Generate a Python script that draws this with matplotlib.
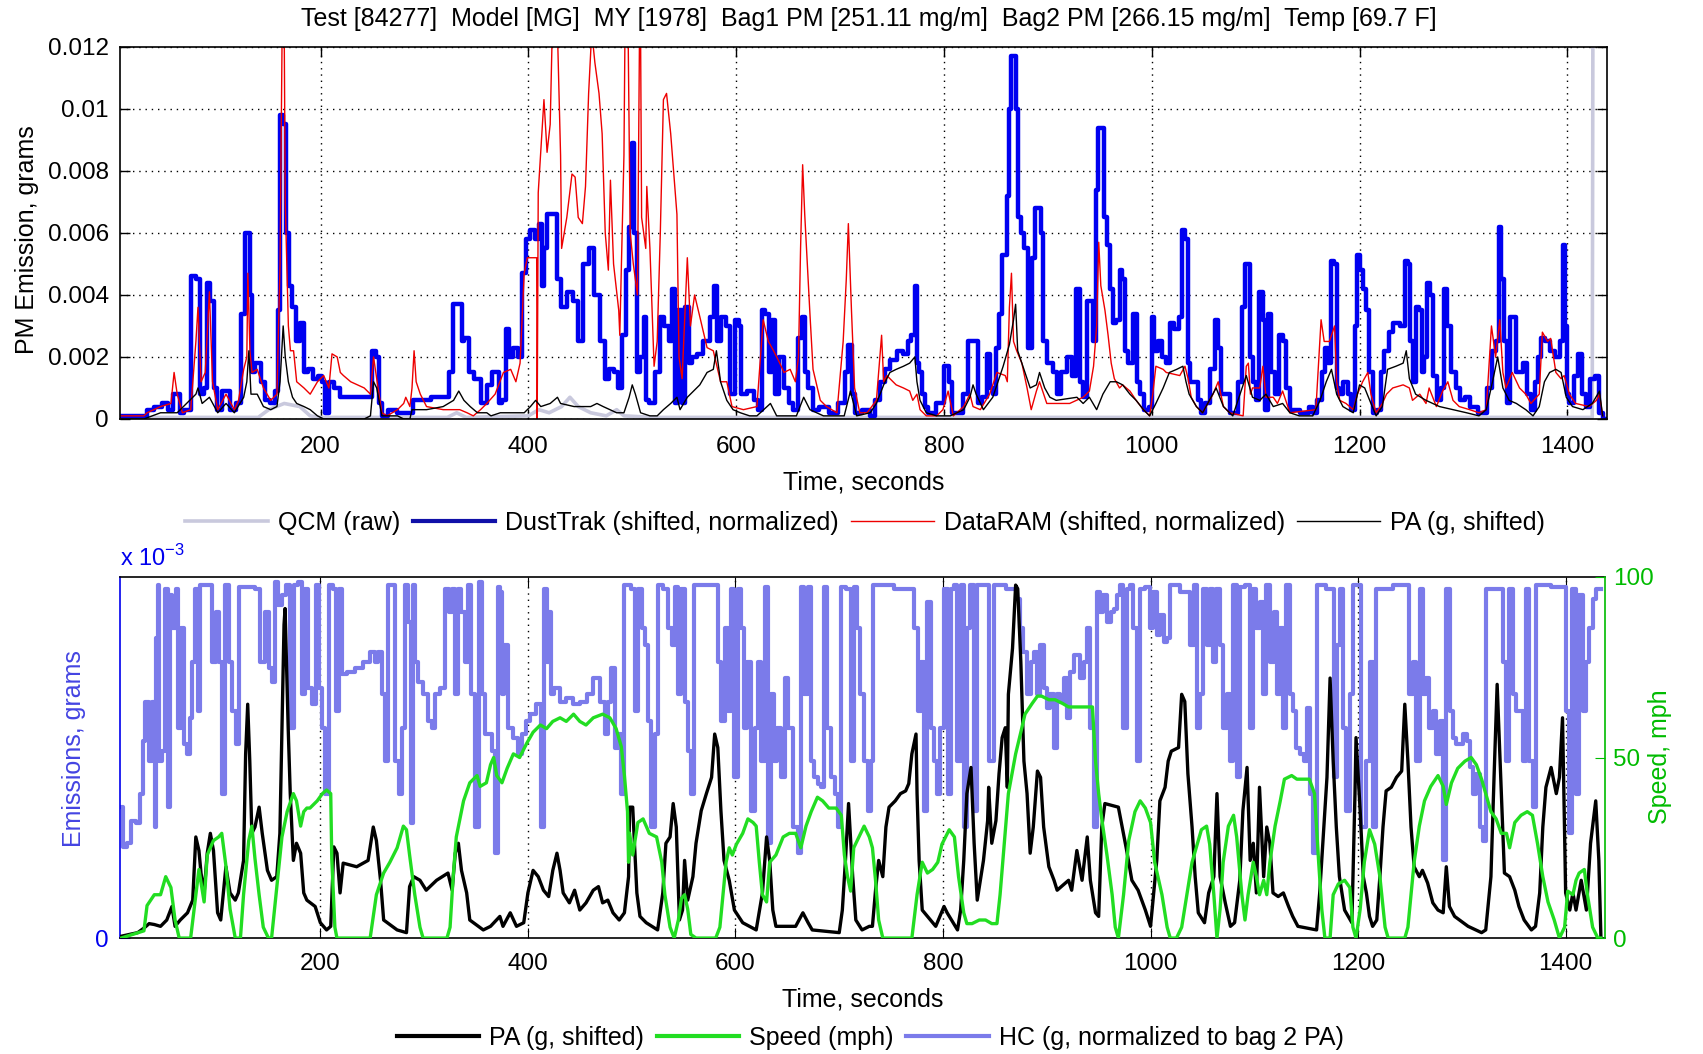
import numpy as np
import matplotlib.pyplot as plt
from matplotlib.lines import Line2D

plt.rcParams['font.family'] = ['Liberation Sans', 'DejaVu Sans']
plt.rcParams['font.size'] = 18

title = ('Test [84277]  Model [MG]  MY [1978]  Bag1 PM [251.11 mg/m]  '
         'Bag2 PM [266.15 mg/m]  Temp [69.7 F]')

# ---- top panel: (time s, grams) ----
qcm = [(7, .00005), (140, .00005), (150, .0003), (165, .0005), (180, .0004), (190, .0001),
       (200, .00005), (322, .00005), (331, .0002), (340, .00005), (400, .0001), (410, .0003),
       (420, .0002), (432, .0004), (440, .0007), (448, .0004), (460, .0002), (475, .0001),
       (485, .0003), (492, .0001), (520, .00005), (1424, .00005), (1425, .02), (1438, .02)]

dusttrak = [
    (7, .0001), (30, .0001), (35, .0003), (45, .0004), (50, .0005), (56, .0003), (59, .0008),
    (63, .0008), (66, .0002), (72, .0003), (78, .0046), (82, .0045), (86, .0008), (90, .0010),
    (92, .0044), (96, .0038), (99, .0010), (102, .0003), (109, .0009), (117, .0003), (121, .0005),
    (126, .0034), (128, .0060), (131, .0060), (133, .0040), (135, .0015), (138, .0018), (141, .0018),
    (144, .0012), (149, .0006), (154, .0005), (158, .0009), (160, .0035), (162, .0098), (165, .0095),
    (168, .0060), (171, .0043), (174, .0036), (178, .0025), (182, .0031), (186, .0015), (190, .0016),
    (195, .0013), (200, .0014), (203, .0012), (206, .0002), (210, .0012), (216, .0010), (222, .0007),
    (248, .0007), (251, .0022), (255, .0020), (258, .0005), (261, .0001), (268, .0003), (280, .0002),
    (287, .0002), (290, .0006), (322, .0007), (325, .0015), (330, .0037), (335, .0037), (337, .0025),
    (340, .0026), (345, .0015), (351, .0013), (357, .0005), (363, .0011), (367, .0015), (370, .0015),
    (373, .0005), (376, .0006), (380, .0029), (383, .0020), (388, .0023), (392, .0020), (396, .0047),
    (399, .0058), (404, .0061), (408, .0058), (412, .0063), (414, .0043), (416, .0055), (420, .0066),
    (426, .0066), (429, .0045), (434, .0036), (440, .0041), (445, .0038), (450, .0025), (456, .0050),
    (461, .0055), (466, .0040), (472, .0025), (476, .0013), (480, .0016), (485, .0015), (488, .0010),
    (492, .0027), (495, .0048), (498, .0062), (501, .0089), (503, .0060), (506, .0015), (509, .0020),
    (513, .0033), (514, .0006), (519, .0005), (524, .0015), (529, .0033), (533, .0030), (537, .0025),
    (540, .0042), (543, .0005), (546, .0035), (549, .0005), (553, .0036), (556, .0018), (559, .0020),
    (565, .0021), (572, .0025), (578, .0033), (580, .0043), (583, .0025), (588, .0033), (593, .0030),
    (596, .0008), (601, .0032), (604, .0030), (606, .0008), (614, .0009), (620, .0006), (623, .0003),
    (626, .0035), (630, .0034), (633, .0015), (636, .0032), (639, .0008), (644, .0020), (649, .0010),
    (652, .0005), (658, .0003), (662, .0026), (665, .0033), (668, .0015), (671, .0010), (676, .0003),
    (684, .0004), (694, .0002), (703, .0005), (706, .0015), (710, .0024), (713, .0008), (716, .0002),
    (726, .0003), (732, .0001), (735, .0006), (742, .0012), (745, .0016), (751, .0019), (758, .0022),
    (764, .0021), (767, .0025), (770, .0027), (774, .0043), (775, .0018), (777, .0015), (780, .0008),
    (783, .0004), (787, .0002), (798, .0005), (803, .0017), (806, .0012), (809, .0002), (815, .0002),
    (822, .0008), (825, .0025), (831, .0025), (835, .0005), (839, .0007), (843, .0021), (846, .0010),
    (849, .0008), (852, .0023), (854, .0034), (857, .0053), (860, .0053), (862, .0072), (863, .0100),
    (867, .0117), (869, .0117), (870, .0100), (872, .0065), (876, .0060), (879, .0055), (883, .0023),
    (886, .0052), (889, .0068), (892, .0068), (894, .0060), (897, .0025), (902, .0018), (907, .0015),
    (910, .0008), (915, .0015), (921, .0020), (926, .0014), (929, .0042), (932, .0012), (936, .0007),
    (939, .0038), (942, .0038), (945, .0025), (947, .0074), (950, .0094), (953, .0094), (955, .0065),
    (958, .0056), (961, .0042), (964, .0031), (968, .0032), (970, .0048), (973, .0045), (976, .0022),
    (979, .0018), (984, .0034), (987, .0012), (990, .0008), (995, .0003), (1000, .0004), (1001, .0033),
    (1004, .0022), (1008, .0025), (1011, .0020), (1016, .0018), (1019, .0031), (1024, .0029),
    (1028, .0033), (1031, .0061), (1033, .0058), (1036, .0018), (1038, .0012), (1043, .0012),
    (1046, .0006), (1049, .0002), (1054, .0005), (1059, .0016), (1062, .0032), (1065, .0023),
    (1069, .0008), (1073, .0008), (1077, .0002), (1081, .0002), (1085, .0012), (1089, .0036),
    (1091, .0050), (1094, .0050), (1096, .0020), (1099, .0012), (1102, .0006), (1105, .0041),
    (1109, .0032), (1110, .0003), (1113, .0034), (1117, .0015), (1120, .0008), (1125, .0027),
    (1128, .0025), (1131, .0010), (1136, .0003), (1149, .0002), (1154, .0004), (1157, .0002),
    (1162, .0006), (1165, .0015), (1168, .0023), (1171, .0018), (1174, .0051), (1177, .0050),
    (1179, .0010), (1182, .0008), (1187, .0012), (1190, .0008), (1194, .0003), (1197, .0030),
    (1198, .0053), (1202, .0048), (1205, .0042), (1208, .0035), (1211, .0015), (1214, .0002),
    (1219, .0003), (1222, .0015), (1226, .0022), (1230, .0028), (1235, .0031), (1242, .0030),
    (1245, .0051), (1248, .0050), (1250, .0025), (1253, .0012), (1256, .0036), (1259, .0035),
    (1261, .0015), (1264, .0020), (1266, .0044), (1269, .0040), (1272, .0014), (1277, .0006),
    (1280, .0010), (1283, .0042), (1286, .0030), (1290, .0015), (1295, .0010), (1299, .0006),
    (1304, .0007), (1309, .0004), (1320, .0002), (1325, .0010), (1330, .0022), (1333, .0025),
    (1335, .0062), (1338, .0045), (1341, .0025), (1343, .0005), (1346, .0033), (1349, .0033),
    (1352, .0015), (1355, .0015), (1359, .0018), (1363, .0008), (1367, .0003), (1370, .0012),
    (1373, .0020), (1376, .0026), (1381, .0025), (1386, .0022), (1391, .0020), (1394, .0025),
    (1397, .0056), (1399, .0030), (1400, .0008), (1404, .0005), (1408, .0014), (1413, .0021),
    (1416, .0008), (1420, .0004), (1424, .0013), (1429, .0014), (1432, .0002), (1436, .0000)]

dataram = [
    (7, .0001), (30, .0001), (33, .0002), (46, .0004), (56, .0005), (59, .0015), (62, .0008),
    (67, .0002), (75, .0003), (80, .0025), (82, .0036), (85, .0012), (89, .0015), (93, .0041),
    (96, .0012), (101, .0003), (109, .0008), (117, .0003), (121, .0006), (126, .0016), (129, .0020),
    (130, .0047), (132, .0022), (134, .0015), (139, .0016), (145, .0010), (152, .0006), (158, .0008),
    (161, .0050), (163, .0125), (165, .0125), (166, .0070), (169, .0030), (171, .0022), (174, .0022),
    (177, .0012), (184, .0010), (190, .0008), (197, .0012), (203, .0014), (208, .0010), (211, .0021),
    (216, .0020), (219, .0015), (222, .0014), (229, .0012), (242, .0010), (248, .0008), (251, .0020),
    (254, .0013), (259, .0002), (264, .0001), (274, .0003), (280, .0005), (282, .0007), (286, .0004),
    (288, .0010), (290, .0022), (292, .0012), (296, .0008), (302, .0004), (318, .0003), (334, .0003),
    (341, .0002), (347, .0001), (354, .0003), (360, .0005), (368, .0008), (376, .0015), (383, .0016),
    (388, .0012), (392, .0018), (396, .0047), (399, .0052), (408, .0052), (408.5, .0000),
    (409.5, .0073), (415, .0103), (418, .0086), (421, .0095), (423, .0125), (428, .0125),
    (431, .0085), (432, .0055), (437, .0065), (442, .0079), (445, .0078), (448, .0065), (452, .0063),
    (455, .0075), (458, .0105), (461, .0125), (464, .0115), (468, .0105), (471, .0092), (474, .0060),
    (477, .0048), (479, .0077), (482, .0050), (487, .0035), (488, .0027), (492, .0085), (493, .0125),
    (496, .0125), (498, .0060), (501, .0050), (505, .0040), (507, .0125), (508, .0125), (509, .0065),
    (513, .0055), (514, .0075), (517, .0055), (521, .0017), (524, .0025), (527, .0060), (530, .0103),
    (533, .0105), (537, .0092), (540, .0079), (543, .0066), (545, .0020), (548, .0013), (553, .0052),
    (556, .0030), (560, .0040), (565, .0033), (572, .0023), (578, .0022), (585, .0012), (591, .0012),
    (596, .0004), (607, .0003), (620, .0004), (626, .0032), (631, .0025), (636, .0022), (642, .0018),
    (646, .0015), (652, .0016), (657, .0012), (660, .0020), (662, .0055), (664, .0082), (666, .0066),
    (671, .0034), (674, .0016), (681, .0006), (687, .0004), (697, .0002), (703, .0025), (706, .0045),
    (708, .0063), (711, .0035), (714, .0010), (719, .0002), (726, .0002), (735, .0006), (740, .0027),
    (742, .0012), (745, .0014), (754, .0011), (761, .0010), (767, .0009), (770, .0006), (774, .0008),
    (777, .0003), (783, .0001), (793, .0001), (799, .0003), (804, .0009), (809, .0001), (819, .0004),
    (825, .0008), (828, .0004), (835, .0003), (844, .0008), (851, .0015), (859, .0014), (861, .0012),
    (863, .0036), (865, .0047), (867, .0025), (870, .0022), (875, .0018), (880, .0010), (884, .0003),
    (889, .0009), (892, .0012), (895, .0009), (899, .0005), (921, .0005), (934, .0007), (940, .0009),
    (944, .0017), (947, .0030), (949, .0057), (951, .0043), (955, .0035), (958, .0027), (961, .0018),
    (964, .0013), (969, .0010), (972, .0011), (979, .0009), (985, .0006), (992, .0003), (998, .0001),
    (1001, .0008), (1004, .0017), (1011, .0016), (1014, .0015), (1027, .0014), (1032, .0017),
    (1035, .0013), (1038, .0007), (1043, .0004), (1049, .0002), (1059, .0008), (1064, .0012),
    (1069, .0004), (1075, .0002), (1088, .0001), (1091, .0017), (1093, .0018), (1095, .0008),
    (1097, .0010), (1104, .0010), (1107, .0017), (1110, .0007), (1117, .0007), (1121, .0005),
    (1126, .0009), (1133, .0002), (1158, .0003), (1163, .0032), (1166, .0025), (1171, .0025),
    (1176, .0030), (1178, .0012), (1181, .0006), (1187, .0005), (1194, .0003), (1198, .0008),
    (1203, .0012), (1208, .0015), (1211, .0008), (1216, .0002), (1222, .0005), (1226, .0008),
    (1232, .0010), (1242, .0011), (1248, .0010), (1251, .0006), (1258, .0008), (1264, .0005),
    (1267, .0010), (1274, .0004), (1280, .0009), (1285, .0012), (1290, .0006), (1296, .0004),
    (1306, .0003), (1315, .0002), (1322, .0003), (1327, .0030), (1331, .0020), (1335, .0032),
    (1338, .0015), (1341, .0010), (1347, .0015), (1354, .0010), (1360, .0008), (1365, .0005),
    (1373, .0008), (1376, .0028), (1381, .0025), (1384, .0026), (1389, .0015), (1394, .0013),
    (1397, .0014), (1402, .0008), (1408, .0005), (1421, .0004), (1428, .0006), (1431, .0008),
    (1434, .0001)]

pa_top = [
    (7, 0), (30, 0), (46, .0002), (62, .0002), (80, .0008), (82, .0010), (86, .0005), (93, .0007),
    (101, .0002), (109, .0005), (117, .0002), (126, .0007), (129, .0012), (131, .0022), (133, .0008),
    (139, .0008), (145, .0004), (152, .0003), (158, .0004), (161, .0012), (164, .0030), (166, .0020),
    (169, .0012), (173, .0007), (177, .0005), (184, .0004), (190, .0003), (197, .0001), (203, 0),
    (242, 0), (248, .0001), (251, .0012), (254, .0010), (259, .0001), (274, .0001), (280, 0),
    (286, 0), (288, .0003), (302, .0003), (318, .0004), (328, .0006), (333, .0009), (338, .0006),
    (344, .0004), (351, .0002), (360, .0002), (364, .0001), (373, .0002), (396, .0002), (402, .0004),
    (407, .0006), (412, .0004), (421, .0005), (428, .0007), (431, .0005), (444, .0004), (460, .0004),
    (466, .0005), (472, .0004), (485, .0002), (492, .0002), (497, .0007), (500, .0011), (503, .0008),
    (508, .0002), (517, .0001), (524, .0001), (530, .0003), (537, .0005), (543, .0007), (546, .0003),
    (553, .0007), (559, .0009), (565, .0011), (572, .0015), (578, .0016), (581, .0022), (585, .0012),
    (591, .0006), (597, .0003), (604, .0002), (613, .0001), (620, .0001), (633, .0005), (639, .0001),
    (658, .0001), (665, .0007), (671, .0003), (684, .0001), (704, .0001), (710, .0009), (716, .0001),
    (729, .0002), (735, .0005), (742, .0011), (748, .0015), (754, .0016), (761, .0017), (767, .0018),
    (772, .0020), (774, .0012), (777, .0006), (783, .0002), (793, .0001), (806, .0001), (819, .0003),
    (825, .0007), (828, .0011), (831, .0008), (838, .0003), (847, .0007), (857, .0017), (863, .0024),
    (867, .0032), (869, .0037), (871, .0022), (876, .0017), (883, .0010), (889, .0011), (892, .0015),
    (897, .0010), (902, .0007), (908, .0006), (928, .0007), (934, .0005), (940, .0007), (947, .0003),
    (953, .0008), (960, .0012), (966, .0012), (972, .0011), (979, .0008), (985, .0006), (992, .0003),
    (998, .0001), (1004, .0005), (1011, .0010), (1017, .0015), (1024, .0016), (1030, .0017),
    (1033, .0012), (1036, .0008), (1043, .0004), (1049, .0002), (1062, .0010), (1069, .0004),
    (1078, .0001), (1091, .0014), (1097, .0007), (1104, .0006), (1110, .0008), (1117, .0004),
    (1126, .0005), (1133, .0002), (1142, .0001), (1155, .0001), (1162, .0006), (1168, .0012),
    (1173, .0016), (1178, .0008), (1184, .0004), (1194, .0002), (1200, .0011), (1205, .0010),
    (1211, .0005), (1216, .0001), (1222, .0004), (1227, .0016), (1235, .0017), (1242, .0018),
    (1245, .0022), (1248, .0013), (1254, .0008), (1264, .0006), (1277, .0004), (1290, .0003),
    (1303, .0002), (1315, .0001), (1322, .0003), (1328, .0012), (1333, .0020), (1338, .0010),
    (1344, .0006), (1351, .0005), (1360, .0003), (1367, .0001), (1373, .0004), (1378, .0012),
    (1383, .0015), (1389, .0016), (1394, .0015), (1399, .0007), (1405, .0004), (1415, .0003),
    (1424, .0005), (1431, .0009), (1434, .0001)]

# ---- bottom panel: PA and HC in 1e-3 g, speed in mph ----
pa_bottom = [
    (8, .02), (24, .06), (30, .11), (35, .16), (40, .15), (46, .13), (52, .20), (57, .35), (60, .13),
    (65, .20), (72, .28), (77, .42), (80, 1.12), (83, .97), (85, .72), (88, .50), (91, .94), (94, 1.16),
    (97, .97), (101, .28), (104, .20), (109, .79), (113, .50), (118, .42), (121, .50), (126, .86),
    (128, 2.04), (130, 2.59), (132, 1.96), (134, 1.16), (137, 1.23), (141, 1.45), (144, 1.16),
    (149, .75), (153, .64), (158, .68), (161, 1.16), (163, 2.33), (165, 3.47), (166, 3.65), (169, 2.33),
    (171, 1.60), (174, .86), (177, 1.05), (181, .94), (184, .50), (187, .42), (195, .35), (200, .17),
    (206, .09), (210, .13), (213, 1.01), (216, .94), (219, .50), (222, .83), (235, .79), (246, .86),
    (251, 1.23), (254, 1.08), (258, .64), (261, .20), (274, .09), (283, .06), (286, .57), (290, .68),
    (296, .64), (302, .53), (312, .64), (323, .72), (327, .53), (330, .94), (333, 1.05), (336, .75),
    (341, .50), (344, .20), (357, .09), (364, .13), (373, .24), (376, .13), (383, .28), (389, .13),
    (396, .17), (400, .50), (405, .75), (410, .68), (415, .53), (420, .46), (424, .75), (428, .94),
    (431, .75), (434, .50), (440, .39), (445, .53), (450, .31), (456, .39), (463, .53), (468, .57),
    (472, .39), (477, .42), (482, .28), (488, .20), (493, .28), (497, .68), (498, 1.45), (501, 1.45),
    (505, .50), (508, .24), (514, .17), (525, .09), (530, .50), (533, 1.05), (537, 1.12), (540, 1.49),
    (543, 1.23), (546, .20), (549, .31), (551, .86), (554, .42), (559, .68), (562, 1.05), (567, 1.41),
    (572, 1.60), (577, 1.78), (580, 2.26), (583, 2.11), (586, 1.41), (589, .86), (594, .64),
    (599, .31), (607, .17), (620, .09), (626, .50), (630, 1.12), (633, .86), (636, .31), (639, .13),
    (658, .13), (665, .28), (670, .17), (674, .09), (700, .06), (703, .31), (706, .86), (709, 1.49),
    (713, .68), (716, .20), (722, .09), (729, .13), (732, .13), (735, .53), (738, .86), (742, .68),
    (745, 1.23), (748, 1.45), (754, 1.52), (759, 1.60), (764, 1.63), (767, 1.71), (770, 2.04),
    (774, 2.26), (775, 1.60), (777, .86), (780, .31), (793, .13), (801, .35), (804, .28), (814, .09),
    (817, .31), (820, .86), (823, 1.60), (827, 1.89), (830, 1.05), (833, .42), (836, .64), (839, .86),
    (843, 1.30), (844, 1.67), (847, 1.05), (851, 1.30), (854, 1.82), (857, 2.22), (860, 2.33),
    (862, 1.67), (863, 2.70), (867, 3.21), (870, 3.91), (872, 3.87), (875, 3.06), (878, 1.96),
    (881, 1.60), (884, .94), (887, 1.23), (891, 1.85), (894, 1.78), (897, 1.23), (902, .79), (907, .64),
    (910, .53), (921, .64), (924, .53), (929, .97), (934, .64), (939, 1.12), (942, .64), (947, .28),
    (950, .24), (953, 1.23), (956, 1.49), (969, 1.45), (972, 1.27), (977, .97), (982, .64), (988, .53),
    (995, .31), (1000, .13), (1003, .50), (1006, .86), (1009, 1.52), (1014, 1.67), (1017, 1.96),
    (1020, 2.07), (1027, 2.11), (1030, 2.70), (1033, 2.62), (1036, 1.82), (1040, 1.23), (1043, .68),
    (1046, .28), (1052, .17), (1056, .50), (1061, .68), (1064, 1.60), (1067, .68), (1072, .39),
    (1077, .13), (1081, .17), (1086, .64), (1089, 1.41), (1093, 1.89), (1096, .86), (1099, 1.05),
    (1102, .50), (1105, 1.67), (1109, .68), (1112, 1.23), (1115, 1.05), (1118, .50), (1123, .46),
    (1128, .50), (1133, .35), (1137, .24), (1142, .13), (1160, .09), (1163, .50), (1166, 1.05),
    (1170, 1.78), (1173, 2.88), (1176, 1.96), (1179, 1.23), (1182, .68), (1187, .31), (1194, .17),
    (1197, 1.60), (1198, 2.22), (1202, 1.41), (1205, .68), (1208, .50), (1211, .24), (1214, .13),
    (1218, .20), (1221, .68), (1224, 1.23), (1227, 1.63), (1232, 1.67), (1237, 1.78), (1242, 1.85),
    (1245, 2.59), (1248, 1.96), (1251, 1.23), (1254, .79), (1259, .68), (1262, .75), (1267, .61),
    (1272, .39), (1277, .31), (1282, .28), (1285, .79), (1288, .35), (1293, .24), (1306, .13),
    (1319, .06), (1323, .09), (1328, .68), (1331, 1.78), (1334, 2.81), (1338, 1.60), (1341, .72),
    (1346, .68), (1351, .53), (1355, .35), (1360, .20), (1367, .09), (1371, .13), (1375, .50),
    (1378, 1.23), (1381, 1.67), (1386, 1.89), (1391, 1.60), (1394, 1.78), (1397, 2.44), (1400, .50),
    (1404, .31), (1407, .50), (1410, .31), (1415, .64), (1420, .31), (1424, 1.05), (1429, 1.52),
    (1432, .86), (1434, 0)]

speed_mph = [
    (8, 0), (30, 2), (33, 9), (40, 12), (46, 12), (51, 17), (56, 14), (60, 5), (64, 0), (75, 0),
    (80, 12), (83, 19), (88, 10), (91, 23), (97, 27), (102, 28), (105, 29), (109, 20), (113, 8),
    (118, 0), (123, 0), (126, 12), (131, 27), (134, 31), (137, 22), (141, 12), (145, 3), (150, 0),
    (153, 0), (158, 14), (163, 28), (168, 35), (174, 40), (177, 38), (181, 31), (184, 35), (187, 36),
    (190, 36), (197, 38), (202, 40), (206, 41), (210, 40), (211, 22), (214, 3), (216, 0), (248, 0),
    (254, 12), (261, 18), (267, 21), (274, 25), (280, 31), (283, 30), (286, 23), (291, 12), (296, 3),
    (299, 0), (322, 0), (325, 3), (328, 17), (331, 28), (338, 38), (344, 43), (351, 45), (354, 42),
    (360, 43), (364, 48), (367, 50), (370, 45), (375, 43), (380, 47), (386, 51), (392, 50), (399, 54),
    (405, 57), (412, 59), (418, 58), (424, 60), (431, 61), (437, 60), (444, 62), (450, 60), (456, 59),
    (463, 61), (472, 62), (479, 61), (485, 58), (490, 53), (493, 45), (496, 35), (497, 21), (498, 29),
    (501, 23), (506, 32), (511, 33), (517, 29), (524, 28), (529, 21), (532, 12), (537, 3), (541, 0),
    (545, 5), (548, 11), (551, 12), (554, 8), (557, 1), (562, 0), (581, 0), (585, 3), (588, 12),
    (591, 21), (594, 25), (597, 23), (601, 26), (607, 29), (612, 33), (617, 32), (620, 31), (623, 21),
    (626, 12), (630, 10), (633, 21), (639, 23), (646, 28), (652, 29), (658, 29), (663, 25), (668, 31),
    (673, 35), (679, 39), (684, 38), (690, 36), (697, 36), (702, 34), (705, 23), (708, 17), (711, 13),
    (714, 25), (719, 28), (724, 31), (729, 28), (732, 25), (735, 16), (738, 5), (742, 0), (770, 0),
    (775, 12), (780, 21), (785, 18), (790, 19), (795, 21), (799, 26), (806, 30), (811, 28), (815, 17),
    (820, 7), (823, 4), (828, 4), (835, 5), (841, 5), (847, 4), (852, 4), (855, 12), (859, 26),
    (863, 40), (870, 51), (875, 57), (879, 62), (886, 65), (891, 67), (895, 67), (902, 66), (908, 66),
    (915, 65), (921, 64), (928, 64), (934, 64), (940, 64), (944, 64), (947, 49), (950, 40), (953, 33),
    (958, 23), (963, 12), (966, 3), (969, 0), (974, 12), (979, 27), (985, 35), (990, 38), (995, 36),
    (1000, 32), (1004, 21), (1011, 12), (1016, 3), (1019, 0), (1025, 0), (1030, 3), (1035, 12),
    (1040, 21), (1045, 26), (1049, 30), (1054, 31), (1057, 26), (1061, 12), (1064, 0), (1067, 8),
    (1070, 21), (1075, 31), (1080, 34), (1083, 28), (1088, 12), (1091, 5), (1094, 12), (1099, 21),
    (1102, 17), (1105, 12), (1109, 16), (1112, 12), (1115, 21), (1120, 31), (1125, 38), (1129, 44),
    (1136, 45), (1141, 44), (1147, 44), (1153, 44), (1158, 40), (1162, 21), (1165, 8), (1168, 0),
    (1173, 0), (1176, 12), (1181, 15), (1187, 16), (1192, 14), (1195, 3), (1198, 0), (1202, 8),
    (1206, 21), (1211, 30), (1216, 26), (1221, 17), (1226, 3), (1229, 0), (1245, 0), (1248, 3),
    (1251, 12), (1254, 21), (1259, 31), (1264, 38), (1270, 42), (1277, 45), (1282, 42), (1285, 37),
    (1290, 43), (1296, 47), (1303, 49), (1309, 50), (1314, 48), (1319, 44), (1323, 40), (1328, 35),
    (1333, 33), (1338, 29), (1343, 29), (1346, 25), (1351, 32), (1357, 34), (1363, 35), (1368, 34),
    (1373, 26), (1378, 17), (1383, 10), (1389, 5), (1394, 0), (1399, 3), (1402, 13), (1407, 12),
    (1410, 16), (1413, 18), (1418, 19), (1421, 12), (1426, 3), (1431, 0), (1434, 0)]

hc = [
    (8, 1.45), (11, 1.01), (16, 1.05), (20, 1.30), (24, 1.27), (28, 1.60), (30, 2.18), (33, 2.62),
    (36, 1.96), (40, 2.62), (41, 1.23), (43, 3.32), (44, 3.91), (46, 1.96), (49, 2.07), (52, 3.87),
    (54, 1.45), (56, 3.80), (59, 3.43), (62, 3.87), (64, 2.33), (67, 3.43), (70, 2.15), (73, 2.04),
    (75, 2.44), (78, 3.06), (81, 3.87), (83, 2.51), (85, 3.91), (94, 3.91), (97, 3.06), (101, 3.61),
    (104, 3.06), (107, 1.60), (110, 3.91), (113, 3.06), (117, 2.51), (120, 2.15), (123, 3.89),
    (136, 3.89), (139, 3.87), (145, 3.06), (149, 3.61), (152, 2.99), (155, 2.84), (158, 3.94),
    (161, 3.69), (165, 3.80), (168, 3.91), (173, 2.33), (176, 3.91), (181, 3.94), (184, 2.70),
    (187, 3.87), (190, 2.77), (194, 2.59), (197, 3.91), (200, 2.77), (203, 2.33), (206, 1.60),
    (210, 3.91), (214, 3.87), (216, 2.51), (219, 3.87), (222, 2.92), (229, 2.95), (238, 2.99),
    (245, 3.06), (251, 3.17), (254, 3.06), (258, 3.17), (261, 2.70), (264, 1.96), (267, 3.91),
    (270, 3.91), (274, 1.96), (277, 1.60), (280, 2.33), (283, 3.91), (286, 3.50), (288, 1.27),
    (290, 3.91), (293, 3.06), (296, 2.84), (301, 2.70), (306, 2.40), (309, 2.33), (312, 2.70),
    (318, 2.77), (322, 3.87), (325, 3.61), (328, 3.87), (331, 2.70), (334, 3.87), (338, 3.61),
    (341, 3.06), (344, 3.91), (347, 2.70), (351, 1.23), (354, 3.94), (357, 2.70), (360, 2.26),
    (364, 2.26), (367, 2.07), (370, .94), (372, 3.89), (375, 3.83), (376, 2.70), (378, 3.25),
    (383, 2.33), (388, 2.22), (392, 2.04), (396, 2.26), (400, 2.40), (405, 2.48), (410, 2.59),
    (415, 1.23), (416, 3.87), (420, 3.06), (421, 3.61), (423, 2.70), (428, 2.77), (434, 2.62),
    (440, 2.66), (447, 2.59), (453, 2.62), (460, 2.70), (466, 2.88), (472, 2.62), (476, 2.26),
    (479, 2.62), (482, 2.99), (485, 2.11), (488, 2.26), (492, 1.60), (493, 3.91), (498, 3.91),
    (501, 3.87), (505, 2.51), (508, 3.87), (511, 3.43), (514, 3.25), (517, 2.40), (521, 1.23),
    (524, 2.26), (527, 3.91), (533, 3.87), (537, 3.43), (540, 3.25), (543, 3.89), (546, 2.70),
    (549, 3.87), (553, 2.62), (556, 2.07), (559, 1.60), (562, 3.91), (581, 3.91), (585, 3.06),
    (588, 2.40), (591, 3.43), (594, 2.51), (597, 3.87), (601, 1.78), (604, 3.87), (607, 3.43),
    (610, 2.33), (613, 3.06), (617, 1.41), (620, 2.33), (623, 3.06), (626, 1.96), (630, 3.89),
    (633, 1.05), (636, 2.70), (639, 1.96), (642, 2.33), (646, 1.78), (649, 2.88), (652, 2.33),
    (658, 1.23), (662, .94), (665, 3.89), (668, 2.70), (671, 3.89), (674, 1.96), (678, 1.78),
    (681, 1.71), (684, 1.67), (687, 3.89), (690, 2.33), (694, 1.78), (697, 1.60), (700, 1.23),
    (703, 3.89), (710, 3.87), (713, 1.96), (716, 3.89), (719, 3.43), (722, 2.70), (726, 1.96),
    (729, 1.41), (732, 1.96), (734, 3.91), (771, 3.87), (774, 3.43), (777, 2.51), (780, 3.06),
    (783, 1.41), (787, 3.72), (790, 2.33), (793, 1.96), (796, 1.60), (799, 2.33), (803, 3.87),
    (806, 1.60), (809, 3.87), (812, 3.91), (815, 1.96), (819, 3.91), (822, 1.23), (825, 3.43),
    (828, 3.91), (831, 1.41), (835, 3.91), (841, 3.91), (847, 1.96), (851, 3.91), (870, 3.87),
    (873, 3.76), (876, 3.43), (879, 3.17), (883, 2.70), (886, 3.06), (889, 3.17), (892, 2.70),
    (895, 3.25), (899, 2.77), (902, 2.55), (905, 2.70), (908, 2.11), (911, 2.70), (915, 2.62),
    (918, 2.88), (921, 2.44), (924, 2.95), (928, 3.14), (931, 3.14), (934, 2.88), (937, 3.06),
    (940, 3.43), (944, 2.33), (947, 1.23), (950, 3.83), (953, 3.61), (956, 3.80), (960, 3.50),
    (963, 3.61), (966, 3.65), (969, 3.80), (972, 3.91), (975, 2.33), (979, 3.87), (982, 3.91),
    (985, 3.43), (988, 1.96), (992, 3.87), (998, 3.89), (1001, 3.43), (1004, 3.83), (1008, 3.36),
    (1011, 3.58), (1014, 3.28), (1017, 3.32), (1020, 3.91), (1036, 3.83), (1040, 3.25), (1043, 3.91),
    (1046, 2.33), (1049, 2.70), (1052, 3.87), (1056, 3.25), (1059, 3.87), (1062, 3.06), (1065, 3.87),
    (1068, 3.25), (1072, 2.33), (1075, 2.70), (1078, 1.96), (1081, 3.91), (1085, 1.78), (1088, 3.89),
    (1094, 3.91), (1097, 2.33), (1100, 3.87), (1104, 3.43), (1107, 3.72), (1110, 2.70), (1113, 3.91),
    (1117, 3.06), (1120, 3.61), (1123, 2.70), (1126, 3.43), (1129, 2.33), (1133, 3.91), (1136, 2.70),
    (1139, 2.51), (1142, 2.11), (1146, 2.04), (1149, 1.96), (1152, 2.55), (1155, 1.60), (1158, .94),
    (1162, 3.91), (1176, 3.87), (1178, 1.78), (1181, 3.25), (1184, 3.87), (1187, 2.33), (1190, 1.41),
    (1194, 2.70), (1197, 3.91), (1200, 3.91), (1205, 1.23), (1210, 1.96), (1213, 3.06), (1216, 1.23),
    (1219, 3.87), (1248, 3.91), (1251, 2.70), (1254, 3.06), (1258, 1.96), (1261, 3.87), (1264, 2.70),
    (1267, 2.88), (1270, 2.33), (1274, 2.51), (1277, 2.04), (1280, 2.40), (1283, .86), (1287, 3.87),
    (1290, 2.51), (1293, 2.22), (1296, 2.15), (1299, 2.15), (1303, 2.26), (1306, 2.18), (1309, 1.89),
    (1312, 1.60), (1315, 1.82), (1319, 1.23), (1322, 1.08), (1325, 3.87), (1338, 3.87), (1341, 3.06),
    (1344, 1.96), (1347, 3.87), (1351, 2.70), (1354, 2.51), (1357, 2.51), (1360, 1.96), (1363, 3.87),
    (1367, 1.96), (1370, 1.45), (1373, 3.91), (1399, 3.89), (1402, 2.51), (1405, 1.16), (1408, 3.87),
    (1411, 1.60), (1415, 3.80), (1418, 2.51), (1421, 3.06), (1424, 3.43), (1428, 3.76), (1431, 3.87),
    (1434, 3.87)]

top_yticks = [0, 0.002, 0.004, 0.006, 0.008, 0.01, 0.012]
top_ylabels = ['0', '0.002', '0.004', '0.006', '0.008', '0.01', '0.012']
x_ticks = [200, 400, 600, 800, 1000, 1200, 1400]
speed_ticks = [0, 50, 100]


def xy(pairs):
    a = np.array(pairs, dtype=float)
    return a[:, 0], a[:, 1]


C_QCM = '#C9C9DD'
C_DT = '#0000F0'
C_DR = '#EE0000'
C_HC = '#7B7BEA'
C_SPD = '#22DD22'
C_AX2 = '#00BB00'
dots = (0, (1, 3.5))

fig = plt.figure(figsize=(17.03, 10.54), dpi=100)

# ---------------- top panel ----------------
ax = fig.add_axes([0.0705, 0.6025, 0.873, 0.353])
ax.plot(*xy(qcm), color=C_QCM, lw=2.6, label='QCM (raw)')
ax.plot(*xy(dusttrak), color=C_DT, lw=3.2, drawstyle='steps-mid',
        label='DustTrak (shifted, normalized)')
ax.plot(*xy(dataram), color=C_DR, lw=1.0, label='DataRAM (shifted, normalized)')
ax.plot(*xy(pa_top), color='black', lw=1.0, label='PA (g, shifted)')
ax.set_xlim(7, 1438)
ax.set_ylim(0, 0.012)
ax.set_xticks(x_ticks)
ax.set_yticks(top_yticks)
ax.set_yticklabels(top_ylabels)
ax.grid(True, color='black', lw=1.0, linestyle=dots)
ax.tick_params(direction='in', length=7, width=1, top=True, right=True, pad=8, labelsize=17.5)
ax.tick_params(axis='x', pad=12)
ax.set_xlabel('Time, seconds', labelpad=9)
for s in ax.spines.values():
    s.set_linewidth(1.2)

fig.text(0.510, 0.9815, title, ha='center', va='center', fontsize=18)
fig.text(0.016, 0.773, 'PM Emission, grams', rotation=90, ha='center', va='center')

h_top = [Line2D([], [], color=C_QCM, lw=2.6), Line2D([], [], color='#1010A8', lw=3.0),
         Line2D([], [], color=C_DR, lw=1.0), Line2D([], [], color='black', lw=1.0)]
fig.legend(h_top, ['QCM (raw)', 'DustTrak (shifted, normalized)',
                   'DataRAM (shifted, normalized)', 'PA (g, shifted)'],
           loc='center', bbox_to_anchor=(0.508, 0.504), ncol=4, frameon=False,
           handlelength=3.3, handletextpad=0.4, columnspacing=0.5, fontsize=18)

# ---------------- bottom panel ----------------
bx = fig.add_axes([0.0705, 0.110, 0.872, 0.3426])
bx.plot(*xy(hc), color=C_HC, lw=3.0, drawstyle='steps-mid', zorder=2)
bx.plot(*xy(pa_bottom), color='black', lw=2.4, zorder=3)
bx.set_xlim(7, 1438)
bx.set_ylim(0, 4)
bx.set_xticks(x_ticks)
bx.set_yticks([0])
bx.xaxis.grid(True, color='black', lw=1.0, linestyle=dots)
bx.tick_params(axis='x', direction='in', length=7, top=True, pad=11, labelsize=17.5)
bx.tick_params(axis='y', direction='in', length=7, colors='#0000EE', pad=8, labelsize=17.5)
bx.set_xlabel('Time, seconds', labelpad=9)
bx.spines['left'].set_color('#0000EE')
bx.spines['right'].set_visible(False)
for s in bx.spines.values():
    s.set_linewidth(1.2)

bx2 = bx.twinx()
bx2.plot(*xy(speed_mph), color=C_SPD, lw=2.4)
bx2.set_ylim(0, 100)
bx2.set_xlim(7, 1438)
bx2.set_yticks(speed_ticks)
bx2.tick_params(axis='y', direction='in', length=7, colors=C_AX2, pad=6, labelsize=17.5)
for side in ['left', 'top', 'bottom']:
    bx2.spines[side].set_visible(False)
bx2.spines['right'].set_color(C_AX2)
bx2.spines['right'].set_linewidth(1.2)

fig.text(0.0705, 0.463, 'x 10$^{\\mathregular{-3}}$', color='#0000EE', ha='left',
         va='baseline', fontsize=17)
fig.text(0.0435, 0.290, 'Emissions, grams', rotation=90, ha='center', va='center',
         color='#4444E2')
fig.text(0.9745, 0.282, 'Speed, mph', rotation=90, ha='center', va='center', color=C_AX2)

h_bot = [Line2D([], [], color='black', lw=3.0), Line2D([], [], color=C_SPD, lw=3.0),
         Line2D([], [], color=C_HC, lw=3.0)]
fig.legend(h_bot, ['PA (g, shifted)', 'Speed (mph)', 'HC (g, normalized to bag 2 PA)'],
           loc='center', bbox_to_anchor=(0.511, 0.015), ncol=3, frameon=False,
           handlelength=3.3, handletextpad=0.4, columnspacing=0.5, fontsize=18)

fig.savefig('out.png', dpi=100)
